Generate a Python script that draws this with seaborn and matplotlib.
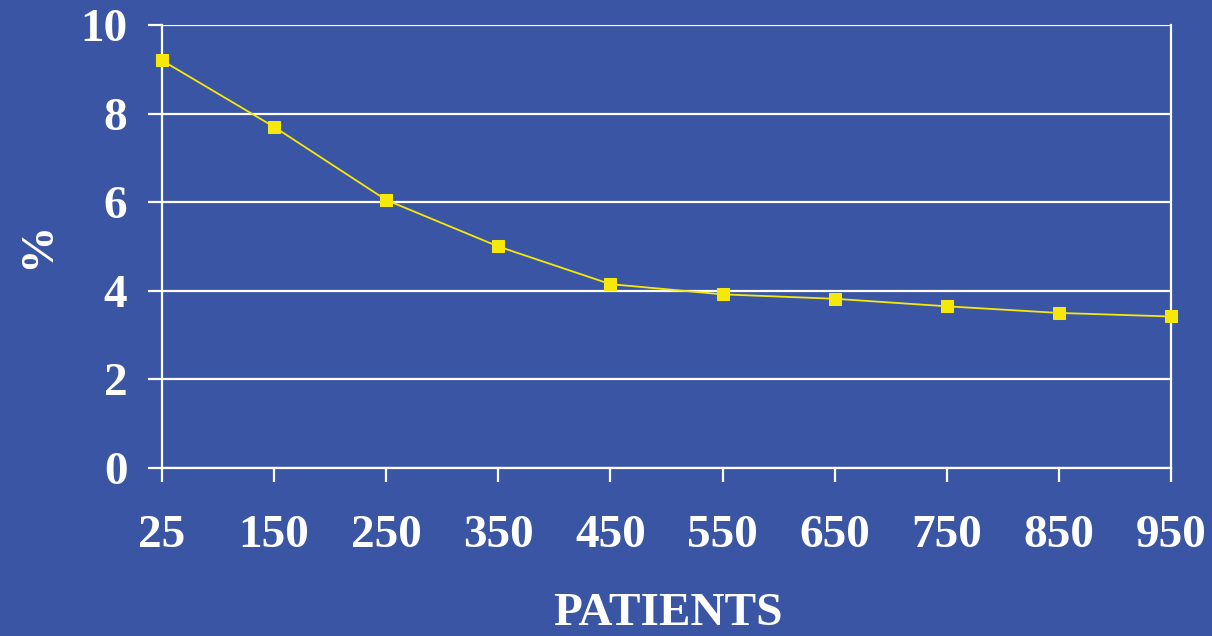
import seaborn as sns
import matplotlib.pyplot as plt
import pandas as pd

patients = ['25', '150', '250', '350', '450', '550', '650', '750', '850', '950']
percent = [9.2, 7.7, 6.05, 5.0, 4.15, 3.92, 3.82, 3.65, 3.5, 3.42]
y_ticks = [0, 2, 4, 6, 8, 10]

bg = '#3A55A4'
yellow = '#F7E80C'

sns.set_theme(style='white')
plt.rcParams['font.family'] = ['Liberation Serif', 'DejaVu Serif']
plt.rcParams['font.weight'] = 'bold'

df = pd.DataFrame({'pos': range(len(patients)), 'pct': percent})

fig = plt.figure(figsize=(12.12, 6.36), dpi=100, facecolor=bg)
ax = fig.add_axes([162 / 1212, 1 - 468 / 636, (1171 - 162) / 1212, (468 - 25) / 636])
ax.set_facecolor(bg)

sns.lineplot(data=df, x='pos', y='pct', ax=ax, color=yellow, linewidth=1.3,
             marker='s', markersize=9, markeredgecolor=yellow, zorder=5, clip_on=False)

ax.set_xlim(0, len(patients) - 1)
ax.set_ylim(0, 10)
ax.set_xticks(range(len(patients)))
ax.set_xticklabels(patients)
ax.set_yticks(y_ticks)

ax.yaxis.grid(True, color='white', linewidth=1.6)
ax.set_axisbelow(True)
for s in ['left', 'bottom', 'right']:
    ax.spines[s].set_color('white')
    ax.spines[s].set_linewidth(1.6)
ax.spines['top'].set_visible(False)

ax.tick_params(axis='y', colors='white', length=10, width=1.6, pad=15, labelsize=34, left=True)
ax.tick_params(axis='x', colors='white', length=10, width=1.6, pad=24, labelsize=34, bottom=True)
for lab in ax.get_xticklabels() + ax.get_yticklabels():
    lab.set_fontweight('bold')

ax.set_xlabel('')
ax.set_ylabel('')
fig.text(38 / 1212, 1 - 245 / 636, '%', rotation=90, color='white', fontsize=34,
         fontweight='bold', ha='center', va='center')
fig.text(668 / 1212, 1 - 614 / 636, 'PATIENTS', color='white', fontsize=34,
         fontweight='bold', ha='center', va='center')

fig.savefig('out.png', dpi=100, facecolor=bg)
